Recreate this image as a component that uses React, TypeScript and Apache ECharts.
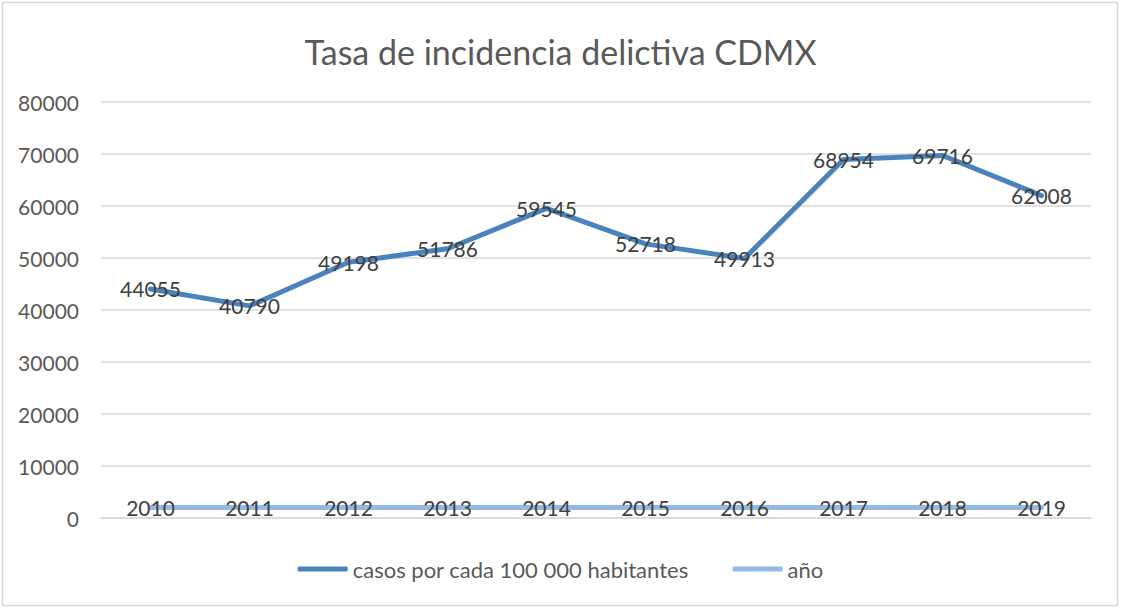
import React, { useEffect, useRef } from "react";
import * as echarts from "echarts";

const categories = ["1", "2", "3", "4", "5", "6", "7", "8", "9", "10"];
const casos = [44055, 40790, 49198, 51786, 59545, 52718, 49913, 68954, 69716, 62008];
const anio = [2010, 2011, 2012, 2013, 2014, 2015, 2016, 2017, 2018, 2019];
const FONT = "Lato";

export default function App() {
  const ref = useRef<HTMLDivElement>(null);
  useEffect(() => {
    document.body.style.margin = "0";
    const chart = echarts.init(ref.current!, null, { renderer: "svg" });
    const lbl = {
      show: true,
      position: "inside",
      fontFamily: FONT,
      fontSize: 21,
      color: "#404040",
    };
    chart.setOption({
      animation: false,
      backgroundColor: "#ffffff",
      textStyle: { fontFamily: FONT },
      title: {
        text: "Tasa de incidencia delictiva CDMX",
        left: "center",
        top: 29,
        textStyle: { fontFamily: FONT, fontSize: 34, fontWeight: "normal", color: "#595959" },
      },
      graphic: [
        {
          type: "rect",
          shape: { x: 2.5, y: 2.5, width: 1115, height: 603 },
          style: { fill: "none", stroke: "#d9d9d9", lineWidth: 1.5 },
        },
      ],
      legend: {
        bottom: 24,
        left: "center",
        itemWidth: 50,
        itemHeight: 5,
        itemGap: 44,
        icon: "roundRect",
        textStyle: { fontFamily: FONT, fontSize: 22, color: "#595959" },
        data: ["casos por cada 100 000 habitantes", "año"],
      },
      grid: { left: 101, right: 30, top: 102, bottom: 91 },
      xAxis: {
        type: "category",
        data: categories,
        axisLine: { lineStyle: { color: "#d9d9d9", width: 1.5 } },
        axisTick: { show: false },
        axisLabel: { show: false },
      },
      yAxis: {
        type: "value",
        min: 0,
        max: 80000,
        interval: 10000,
        axisLine: { show: false },
        axisTick: { show: false },
        splitLine: { lineStyle: { color: "#d9d9d9", width: 1.5 } },
        axisLabel: {
          fontFamily: FONT,
          fontSize: 21,
          color: "#595959",
          margin: 22,
          formatter: (v: number) => String(v),
        },
      },
      series: [
        {
          name: "casos por cada 100 000 habitantes",
          type: "line",
          data: casos,
          symbol: "circle",
          symbolSize: 2,
          showSymbol: true,
          lineStyle: { color: "#4a82bd", width: 5, cap: "round", join: "round" },
          itemStyle: { color: "#4a82bd" },
          label: lbl,
        },
        {
          name: "año",
          type: "line",
          data: anio,
          symbol: "circle",
          symbolSize: 2,
          showSymbol: true,
          lineStyle: { color: "#95b9e3", width: 5, cap: "round" },
          itemStyle: { color: "#95b9e3" },
          label: lbl,
        },
      ],
    });
    return () => chart.dispose();
  }, []);
  return <div ref={ref} style={{ width: 1121, height: 609 }} />;
}
